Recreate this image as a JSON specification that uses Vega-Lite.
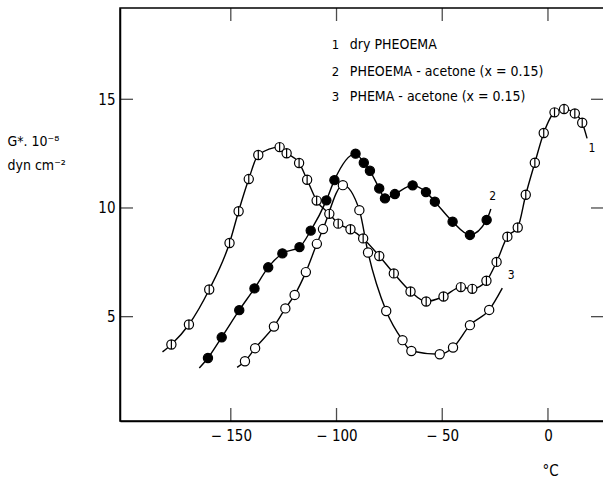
{
  "$schema": "https://vega.github.io/schema/vega-lite/v6.json",
  "width": 484,
  "height": 413,
  "autosize": {"type": "none"},
  "padding": {"left": 120, "top": 8, "right": 0, "bottom": 62},
  "background": "white",
  "resolve": {"axis": {"x": "independent", "y": "independent"}},
  "config": {
    "view": {"stroke": "black", "strokeWidth": 1.5},
    "font": "Liberation Sans Narrow, DejaVu Sans Condensed, Liberation Sans, sans-serif",
    "axis": {"domainColor": "black", "domainWidth": 1.5, "ticks": false, "grid": false, "labelColor": "black", "titleColor": "black", "labelFontWeight": "normal", "titleFontWeight": "normal"}
  },
  "datasets": {
    "curves": [
      {"s": "1", "x": -182.3, "y": 3.38, "pt": 0},
      {"s": "1", "x": -178.1, "y": 3.72, "pt": 1},
      {"s": "1", "x": -169.8, "y": 4.64, "pt": 1},
      {"s": "1", "x": -160.2, "y": 6.25, "pt": 1},
      {"s": "1", "x": -150.6, "y": 8.39, "pt": 1},
      {"s": "1", "x": -146.3, "y": 9.85, "pt": 1},
      {"s": "1", "x": -141.5, "y": 11.33, "pt": 1},
      {"s": "1", "x": -137.0, "y": 12.44, "pt": 1},
      {"s": "1", "x": -126.9, "y": 12.8, "pt": 1},
      {"s": "1", "x": -123.6, "y": 12.52, "pt": 1},
      {"s": "1", "x": -117.7, "y": 12.07, "pt": 1},
      {"s": "1", "x": -113.9, "y": 11.3, "pt": 1},
      {"s": "1", "x": -109.4, "y": 10.34, "pt": 1},
      {"s": "1", "x": -103.4, "y": 9.73, "pt": 1},
      {"s": "1", "x": -99.2, "y": 9.28, "pt": 1},
      {"s": "1", "x": -93.4, "y": 9.02, "pt": 1},
      {"s": "1", "x": -87.4, "y": 8.6, "pt": 1},
      {"s": "1", "x": -79.8, "y": 7.79, "pt": 1},
      {"s": "1", "x": -72.9, "y": 6.99, "pt": 1},
      {"s": "1", "x": -65.0, "y": 6.16, "pt": 1},
      {"s": "1", "x": -57.6, "y": 5.7, "pt": 1},
      {"s": "1", "x": -49.4, "y": 5.93, "pt": 1},
      {"s": "1", "x": -41.2, "y": 6.36, "pt": 1},
      {"s": "1", "x": -35.8, "y": 6.28, "pt": 1},
      {"s": "1", "x": -29.1, "y": 6.65, "pt": 1},
      {"s": "1", "x": -24.3, "y": 7.52, "pt": 1},
      {"s": "1", "x": -19.2, "y": 8.68, "pt": 1},
      {"s": "1", "x": -14.3, "y": 9.1, "pt": 1},
      {"s": "1", "x": -10.5, "y": 10.61, "pt": 1},
      {"s": "1", "x": -6.2, "y": 12.08, "pt": 1},
      {"s": "1", "x": -2.0, "y": 13.45, "pt": 1},
      {"s": "1", "x": 3.1, "y": 14.4, "pt": 1},
      {"s": "1", "x": 7.6, "y": 14.55, "pt": 1},
      {"s": "1", "x": 12.7, "y": 14.35, "pt": 1},
      {"s": "1", "x": 16.2, "y": 13.92, "pt": 1},
      {"s": "1", "x": 18.5, "y": 13.2, "pt": 0},
      {"s": "2", "x": -164.9, "y": 2.64, "pt": 0},
      {"s": "2", "x": -160.8, "y": 3.1, "pt": 1},
      {"s": "2", "x": -154.3, "y": 4.05, "pt": 1},
      {"s": "2", "x": -146.0, "y": 5.3, "pt": 1},
      {"s": "2", "x": -138.8, "y": 6.3, "pt": 1},
      {"s": "2", "x": -132.3, "y": 7.27, "pt": 1},
      {"s": "2", "x": -125.6, "y": 7.91, "pt": 1},
      {"s": "2", "x": -117.5, "y": 8.2, "pt": 1},
      {"s": "2", "x": -112.2, "y": 8.96, "pt": 1},
      {"s": "2", "x": -104.8, "y": 10.35, "pt": 1},
      {"s": "2", "x": -101.0, "y": 11.28, "pt": 1},
      {"s": "2", "x": -91.0, "y": 12.5, "pt": 1},
      {"s": "2", "x": -87.1, "y": 12.08, "pt": 1},
      {"s": "2", "x": -84.2, "y": 11.71, "pt": 1},
      {"s": "2", "x": -79.8, "y": 10.9, "pt": 1},
      {"s": "2", "x": -77.1, "y": 10.44, "pt": 1},
      {"s": "2", "x": -72.4, "y": 10.64, "pt": 1},
      {"s": "2", "x": -64.0, "y": 11.04, "pt": 1},
      {"s": "2", "x": -57.7, "y": 10.73, "pt": 1},
      {"s": "2", "x": -53.5, "y": 10.29, "pt": 1},
      {"s": "2", "x": -45.1, "y": 9.37, "pt": 1},
      {"s": "2", "x": -36.9, "y": 8.76, "pt": 1},
      {"s": "2", "x": -29.0, "y": 9.45, "pt": 1},
      {"s": "2", "x": -27.0, "y": 9.95, "pt": 0},
      {"s": "3", "x": -147.0, "y": 2.67, "pt": 0},
      {"s": "3", "x": -143.3, "y": 2.95, "pt": 1},
      {"s": "3", "x": -138.5, "y": 3.55, "pt": 1},
      {"s": "3", "x": -129.6, "y": 4.55, "pt": 1},
      {"s": "3", "x": -124.2, "y": 5.38, "pt": 1},
      {"s": "3", "x": -119.8, "y": 6.0, "pt": 1},
      {"s": "3", "x": -114.5, "y": 7.05, "pt": 1},
      {"s": "3", "x": -109.3, "y": 8.35, "pt": 1},
      {"s": "3", "x": -106.4, "y": 9.03, "pt": 1},
      {"s": "3", "x": -97.0, "y": 11.05, "pt": 1},
      {"s": "3", "x": -89.2, "y": 9.9, "pt": 1},
      {"s": "3", "x": -85.1, "y": 7.95, "pt": 1},
      {"s": "3", "x": -76.5, "y": 5.26, "pt": 1},
      {"s": "3", "x": -68.8, "y": 3.92, "pt": 1},
      {"s": "3", "x": -64.6, "y": 3.42, "pt": 1},
      {"s": "3", "x": -51.2, "y": 3.27, "pt": 1},
      {"s": "3", "x": -44.9, "y": 3.58, "pt": 1},
      {"s": "3", "x": -36.9, "y": 4.61, "pt": 1},
      {"s": "3", "x": -27.8, "y": 5.31, "pt": 1},
      {"s": "3", "x": -21.6, "y": 6.31, "pt": 0}
    ],
    "labels": [
      {"x": -102.2, "y": 17.5, "text": "1", "size": 13},
      {"x": -102.2, "y": 16.25, "text": "2", "size": 13},
      {"x": -102.2, "y": 15.1, "text": "3", "size": 13},
      {"x": -93.7, "y": 17.5, "text": "dry PHEOEMA", "size": 14},
      {"x": -93.7, "y": 16.25, "text": "PHEOEMA - acetone (x = 0.15)", "size": 14},
      {"x": -93.7, "y": 15.1, "text": "PHEMA - acetone (x = 0.15)", "size": 14},
      {"x": 19.2, "y": 12.75, "text": "1", "size": 12},
      {"x": -27.8, "y": 10.55, "text": "2", "size": 12},
      {"x": -19.0, "y": 6.9, "text": "3", "size": 12}
    ],
    "xticks": [{"v": -150}, {"v": -100}, {"v": -50}, {"v": 0}],
    "yticks": [{"v": 5}, {"v": 10}, {"v": 15}]
  },
  "layer": [
    {
      "data": {"name": "curves"},
      "mark": {"type": "line", "interpolate": "monotone", "color": "black", "strokeWidth": 1.4},
      "encoding": {
        "x": {"field": "x", "type": "quantitative", "scale": {"domain": [-202.4, 26.5], "nice": false, "zero": false},
          "axis": {"orient": "bottom", "values": [-150, -100, -50, 0], "labelPadding": 7, "labelFontSize": 15, "labelExpr": "datum.value < 0 ? '− ' + (-datum.value) : '' + datum.value",
            "title": "°C", "titleFontSize": 15, "titleX": 430, "titleY": 49, "titleAlign": "center", "titleBaseline": "middle"}},
        "y": {"field": "y", "type": "quantitative", "scale": {"domain": [0.2, 19.2], "nice": false, "zero": false},
          "axis": {"orient": "left", "values": [5, 10, 15], "labelPadding": 5, "labelFontSize": 15,
            "title": ["G*. 10⁻⁸", "dyn cm⁻²"], "titleFontSize": 14, "titleAngle": 0, "titleAlign": "left", "titleBaseline": "top", "titleX": -113, "titleY": 126, "titleLineHeight": 24}},
        "detail": {"field": "s"}
      }
    },
    {
      "data": {"name": "xticks"},
      "mark": {"type": "tick", "orient": "vertical", "size": 13, "thickness": 1.3, "color": "black", "yOffset": -6.5},
      "encoding": {
        "x": {"field": "v", "type": "quantitative", "axis": null},
        "y": {"datum": 0.2, "type": "quantitative", "axis": null}
      }
    },
    {
      "data": {"name": "xticks"},
      "mark": {"type": "tick", "orient": "vertical", "size": 13, "thickness": 1.3, "color": "black", "yOffset": 6.5},
      "encoding": {
        "x": {"field": "v", "type": "quantitative", "axis": null},
        "y": {"datum": 19.2, "type": "quantitative", "axis": null}
      }
    },
    {
      "data": {"name": "yticks"},
      "mark": {"type": "tick", "orient": "horizontal", "size": 13, "thickness": 1.3, "color": "black", "xOffset": 6.5},
      "encoding": {
        "x": {"datum": -202.4, "type": "quantitative", "axis": null},
        "y": {"field": "v", "type": "quantitative", "axis": null}
      }
    },
    {
      "data": {"name": "yticks"},
      "mark": {"type": "tick", "orient": "horizontal", "size": 13, "thickness": 1.3, "color": "black", "xOffset": -6.5},
      "encoding": {
        "x": {"datum": 26.5, "type": "quantitative", "axis": null},
        "y": {"field": "v", "type": "quantitative", "axis": null}
      }
    },
    {
      "data": {"name": "curves"},
      "transform": [{"filter": "datum.pt == 1"}],
      "mark": {"type": "point", "filled": false, "strokeWidth": 1.2, "opacity": 1},
      "encoding": {
        "x": {"field": "x", "type": "quantitative", "axis": null},
        "y": {"field": "y", "type": "quantitative", "axis": null},
        "shape": {"field": "s", "type": "nominal", "scale": {"domain": ["1", "2", "3"], "range": ["M-1,0A1,1,0,1,1,1,0A1,1,0,1,1,-1,0ZM0,-1L0,1", "circle", "circle"]}, "legend": null},
        "fill": {"field": "s", "type": "nominal", "scale": {"domain": ["1", "2", "3"], "range": ["white", "black", "white"]}, "legend": null},
        "stroke": {"value": "black"},
        "size": {"value": 85}
      }
    },
    {
      "data": {"name": "labels"},
      "mark": {"type": "text", "align": "left", "baseline": "middle", "color": "black"},
      "encoding": {
        "x": {"field": "x", "type": "quantitative", "axis": null},
        "y": {"field": "y", "type": "quantitative", "axis": null},
        "text": {"field": "text"},
        "size": {"field": "size", "type": "quantitative", "scale": null}
      }
    }
  ]
}
